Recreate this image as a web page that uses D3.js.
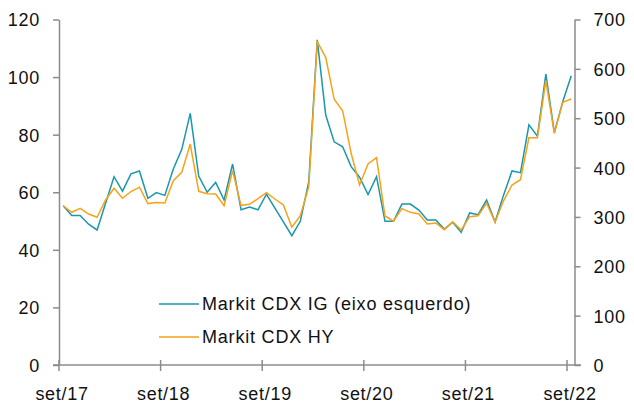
<!DOCTYPE html>
<html>
<head>
<meta charset="utf-8" />
<title></title>
<script src="https://cdn.jsdelivr.net/npm/d3@7"></script>
<style>
  body { margin: 0; background: #fff; }
  svg text { font-family: "Liberation Sans", Arial, sans-serif; font-size: 18px; fill: #111; letter-spacing: 0.7px; }
  svg .axis path, svg .axis line { stroke: #8c8c8c; stroke-width: 1.5px; }
  svg .ig { fill: none; stroke: #1a97ab; stroke-width: 1.5px; stroke-linejoin: miter; }
  svg .hy { fill: none; stroke: #f9a11b; stroke-width: 1.5px; stroke-linejoin: miter; }
</style>
</head>
<body>
<div id="chart"></div>
<script>
var width = 634, height = 413;

// eixo x: meses de set/17 a set/22
var months = d3.timeMonth.range(new Date(2017, 8, 1), new Date(2022, 9, 1));
var tickLabels = ["set/17", "set/18", "set/19", "set/20", "set/21", "set/22"];

// Markit CDX IG (eixo esquerdo)
var igValues = [55.3, 51.9, 51.9, 48.9, 46.9, 56.2, 65.4, 60.4, 66.4, 67.4, 57.9, 59.9,
  58.9, 68.1, 74.9, 87.4, 65.6, 60.0, 63.4, 57.3, 69.8, 53.9, 54.9, 53.9,
  59.3, 54.5, 49.7, 44.9, 49.9, 63.7, 112.9, 86.8, 77.5, 75.8, 68.9, 65.2,
  59.2, 65.4, 49.9, 49.9, 55.9, 55.9, 53.8, 50.4, 50.4, 47.2, 49.6, 46.1,
  52.8, 52.2, 57.3, 49.7, 59.0, 67.4, 66.8, 83.4, 79.5, 101.0, 80.7, 91.5, 100.5];

// Markit CDX HY (eixo direito)
var hyValues = [322.7, 309.4, 317.5, 305.9, 299.2, 334.3, 358, 337.7, 351.5, 360.3, 327, 329,
  328.2, 373.4, 390.4, 447.7, 351.9, 347.1, 346.4, 322.7, 393.7, 323.5, 325.6, 337,
  349.1, 336.3, 324.2, 279, 302.5, 361.3, 655, 623.4, 538.3, 515.2, 428.9, 364.7,
  407.2, 420, 301.9, 291.5, 316.7, 309.3, 305.9, 285.7, 287.7, 274.2, 290.4, 273.5,
  300.5, 302.5, 327.6, 289.7, 332.6, 364.7, 375.5, 460.5, 460.5, 576, 469.4, 532.2, 538.9];

var leftTicks = [0, 20, 40, 60, 80, 100, 120];
var rightTicks = [0, 100, 200, 300, 400, 500, 600, 700];

var seriesNames = ["Markit CDX IG (eixo esquerdo)", "Markit CDX HY"];

var svg = d3.select("#chart")
  .append("svg")
  .attr("width", width)
  .attr("height", height);

var x = d3.scaleBand()
  .domain(months)
  .range([59, 575.5])
  .padding(0);

var yLeft = d3.scaleLinear().domain([0, 120]).range([365, 19.5]);
var yRight = d3.scaleLinear().domain([0, 700]).range([365, 19.5]);

function cx(d) { return x(d) + x.bandwidth() / 2; }

// eixo esquerdo
svg.append("g")
  .attr("class", "axis")
  .attr("transform", "translate(59,0)")
  .call(d3.axisLeft(yLeft).tickValues(leftTicks).tickSize(6).tickPadding(13).tickSizeOuter(0))
  .call(function(g){ g.selectAll("text").attr("dy", "0.36em"); });

// eixo direito
svg.append("g")
  .attr("class", "axis")
  .attr("transform", "translate(574.5,0)")
  .call(d3.axisRight(yRight).tickValues(rightTicks).tickSize(6).tickPadding(13).tickSizeOuter(0))
  .call(function(g){ g.selectAll("text").attr("dy", "0.36em"); });

// eixo x
var septs = months.filter(function(d){ return d.getMonth() == 8; });
var xAxis = svg.append("g")
  .attr("class", "axis")
  .attr("transform", "translate(0,365)")
  .call(d3.axisBottom(x).tickValues(septs).tickSize(6).tickSizeOuter(0)
    .tickFormat(function(d, i){ return tickLabels[i]; }));
xAxis.select(".domain").attr("d", "M53,0H581");
xAxis.selectAll(".tick")
  .attr("transform", function(d){ return "translate(" + x(d) + ",0)"; });
xAxis.selectAll(".tick line").attr("y1", -5);
xAxis.selectAll(".tick text").attr("y", 35).attr("dy", 0).attr("x", 3);

// linhas
var lineIG = d3.line()
  .x(function(d, i){ return cx(months[i]); })
  .y(function(d){ return yLeft(d); });

var lineHY = d3.line()
  .x(function(d, i){ return cx(months[i]); })
  .y(function(d){ return yRight(d); });

svg.append("path").datum(igValues).attr("class", "ig").attr("d", lineIG);
svg.append("path").datum(hyValues).attr("class", "hy").attr("d", lineHY);

// legenda
var legend = svg.append("g").attr("transform", "translate(159,0)");
var legendY = [304, 337];
legend.selectAll("line")
  .data(seriesNames)
  .enter()
  .append("line")
  .attr("x1", 0).attr("x2", 40)
  .attr("y1", function(d, i){ return legendY[i]; })
  .attr("y2", function(d, i){ return legendY[i]; })
  .attr("class", function(d, i){ return i == 0 ? "ig" : "hy"; });
legend.selectAll("text")
  .data(seriesNames)
  .enter()
  .append("text")
  .attr("x", 43)
  .attr("y", function(d, i){ return legendY[i] + 6; })
  .style("letter-spacing", "0.8px")
  .text(function(d){ return d; });
</script>
</body>
</html>
